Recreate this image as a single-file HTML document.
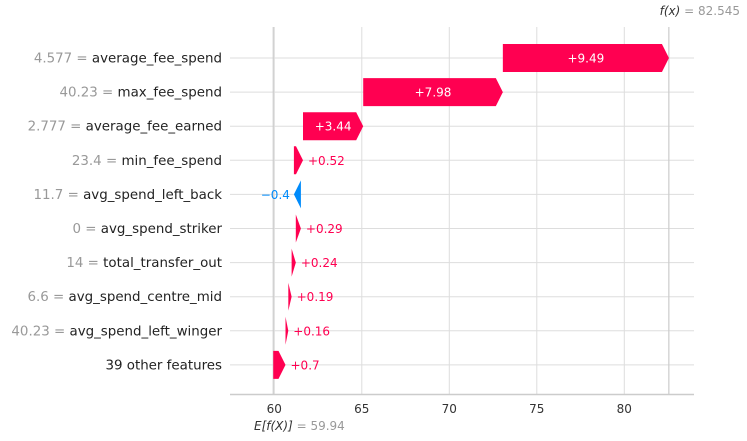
<!DOCTYPE html>
<html><head><meta charset="utf-8"><style>
body{margin:0;background:#fff;}
svg{display:block;font-family:"DejaVu Sans","Liberation Sans",sans-serif;}
</style></head><body>
<svg id="c" width="747" height="441"></svg>
<script>
const features=["average_fee_spend","max_fee_spend","average_fee_earned","min_fee_spend","avg_spend_left_back","avg_spend_striker","total_transfer_out","avg_spend_centre_mid","avg_spend_left_winger","39 other features"];
const featureValues=["4.577","40.23","2.777","23.4","11.7","0","14","6.6","40.23",""];
const shapValues=[9.49,7.98,3.44,0.52,-0.4,0.29,0.24,0.19,0.16,0.7];
const baseValue=59.94;
const fxValue=82.545;
const ticks=[60,65,70,75,80];

const NS="http://www.w3.org/2000/svg";
const svg=document.getElementById('c');
function mk(t,a,txt){const e=document.createElementNS(NS,t);for(const k in a)e.setAttribute(k,a[k]);if(txt!==undefined)e.textContent=txt;svg.appendChild(e);return e;}
const X=v=>274.3+(v-60)*17.5;
const rowY=i=>58+i*34.1;
const L=230,R=694,T=27,B=394.5,H=28;
const pink="#ff0051",blue="#008bfb";

ticks.forEach(t=>{const g=mk('line',{x1:X(t),x2:X(t),y1:T,y2:B,stroke:"#dddddd","stroke-width":1});

});
features.forEach((f,i)=>{const g=mk('line',{x1:L,x2:R,y1:rowY(i),y2:rowY(i),stroke:"#dddddd","stroke-width":1});

});
const bl=mk('line',{x1:X(baseValue),x2:X(baseValue),y1:T,y2:B,stroke:"#cccccc","stroke-width":1.2});


const fl=mk('line',{x1:X(fxValue),x2:X(fxValue),y1:T,y2:B,stroke:"#cccccc","stroke-width":1.2});


const ax=mk('line',{x1:L,x2:R,y1:B,y2:B,stroke:"#cccccc","stroke-width":1.5});


ticks.forEach(t=>{const e=mk('text',{x:X(t),y:413,"text-anchor":"middle","font-size":12,fill:"#333"},String(t));

});

let cum=baseValue;
const starts=[];
for(let i=features.length-1;i>=0;i--){starts[i]=cum;cum+=shapValues[i];}
features.forEach((f,i)=>{
  const s=starts[i],v=shapValues[i],e=s+v;
  const x0=X(s),x1=X(e),y=rowY(i),w=Math.abs(x1-x0),hd=Math.min(w,7);
  const dir=v>=0?1:-1;
  const xb=x1-dir*hd;
  const pts=[[x0,y-H/2],[xb,y-H/2],[x1,y],[xb,y+H/2],[x0,y+H/2]].map(p=>p.join(',')).join(' ');
  const p=mk('polygon',{points:pts,fill:v>=0?pink:blue});
  
  
  const lab=(v>=0?'+':'\u2212')+Math.abs(v);
  let t;
  if(w>40){t=mk('text',{x:(x0+x1)/2,y:y+4.5,"text-anchor":"middle","font-size":12,fill:"#fff"},lab);}
  else if(v>=0){t=mk('text',{x:Math.max(x0,x1)+5,y:y+4.5,"font-size":12,fill:pink},lab);}
  else{t=mk('text',{x:Math.min(x0,x1)-4,y:y+4.5,"text-anchor":"end","font-size":12,fill:blue},lab);}
  
  
  const yl=mk('text',{x:222,y:y+4.5,"text-anchor":"end","font-size":13.4,fill:"#222"});
  
  
  if(featureValues[i]!==""){const a=document.createElementNS(NS,'tspan');a.setAttribute('fill','#999');a.textContent=featureValues[i]+' = ';yl.appendChild(a);}
  const b=document.createElementNS(NS,'tspan');b.textContent=f;yl.appendChild(b);
});
const fx=mk('text',{x:740,y:15,"text-anchor":"end","font-size":12,fill:"#999"});
fx.innerHTML='<tspan font-style="italic" fill="#333">f(x)</tspan> = '+fxValue;


const ex=mk('text',{x:254,y:430,"font-size":12,fill:"#999"});
ex.innerHTML='<tspan font-style="italic" fill="#333">E[f(X)]</tspan> = '+baseValue;


</script>
</body></html>
